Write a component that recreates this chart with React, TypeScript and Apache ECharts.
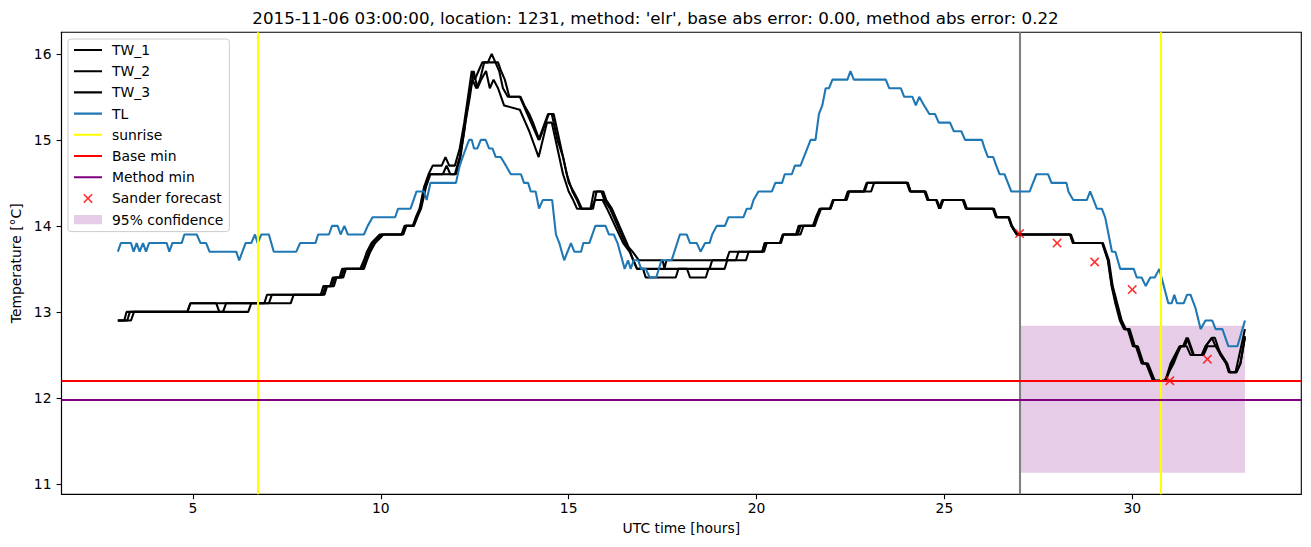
import React, { useEffect, useRef } from "react";
import * as echarts from "echarts";

const titleText =
  "2015-11-06 03:00:00, location: 1231, method: 'elr', base abs error: 0.00, method abs error: 0.22";

const xTicks = [5, 10, 15, 20, 25, 30];
const yTicks = [11, 12, 13, 14, 15, 16];

const tw1: number[][] = [
  [3.0,12.9],[3.17,12.9],[3.23,13.0],[4.85,13.0],[4.93,13.1],[6.9,13.1],[6.97,13.2],[8.4,13.2],[8.47,13.3],[8.65,13.3],[8.72,13.4],[8.9,13.4],[8.97,13.5],[9.45,13.5],[9.55,13.6],[9.63,13.7],[9.75,13.8],[9.97,13.9],[10.55,13.9],[10.63,14.0],[10.85,14.0],[10.93,14.1],[11.03,14.2],[11.15,14.45],[11.27,14.6],[11.38,14.7],[11.62,14.7],[11.72,14.8],[11.82,14.7],[11.97,14.7],[12.1,14.9],[12.22,15.2],[12.32,15.5],[12.42,15.8],[12.5,15.7],[12.6,15.8],[12.7,15.9],[12.85,15.9],[12.95,16.0],[13.05,15.9],[13.12,15.9],[13.2,15.8],[13.3,15.7],[13.42,15.5],[13.7,15.5],[13.8,15.4],[13.9,15.3],[14.0,15.2],[14.2,15.0],[14.45,15.3],[14.55,15.3],[14.7,15.0],[14.85,14.8],[14.95,14.6],[15.1,14.4],[15.22,14.3],[15.32,14.2],[15.58,14.2],[15.67,14.4],[15.87,14.4],[15.95,14.3],[16.1,14.2],[16.5,13.8],[16.7,13.7],[16.87,13.6],[17.5,13.6],[17.55,13.5],[17.6,13.6],[19.2,13.6],[19.28,13.7],[20.15,13.7],[20.22,13.8],[20.62,13.8],[20.7,13.9],[21.05,13.9],[21.12,14.0],[21.5,14.0],[21.58,14.1],[21.68,14.2],[21.95,14.2],[22.03,14.3],[22.35,14.3],[22.43,14.4],[22.85,14.4],[22.93,14.5],[24.0,14.5],[24.08,14.4],[24.47,14.4],[24.55,14.3],[24.78,14.3],[24.86,14.2],[24.94,14.3],[25.49,14.3],[25.57,14.2],[26.29,14.2],[26.37,14.1],[26.7,14.1],[26.78,14.0],[26.92,13.9],[28.34,13.9],[28.42,13.8],[29.2,13.8],[29.35,13.6],[29.45,13.3],[29.55,13.1],[29.67,12.9],[29.78,12.8],[29.88,12.8],[30.02,12.6],[30.1,12.6],[30.25,12.4],[30.37,12.4],[30.55,12.2],[30.88,12.2],[31.02,12.4],[31.26,12.6],[31.35,12.6],[31.45,12.7],[31.62,12.5],[31.85,12.5],[31.95,12.6],[32.12,12.7],[32.22,12.6],[32.35,12.5],[32.5,12.4],[32.58,12.3],[32.75,12.3],[32.85,12.5],[33.0,12.8]
];

const tw2: number[][] = [
  [3.0,12.9],[3.25,12.9],[3.32,13.0],[4.85,13.0],[4.93,13.1],[5.62,13.1],[5.7,13.0],[6.47,13.0],[6.55,13.1],[7.02,13.1],[7.1,13.2],[8.45,13.2],[8.53,13.3],[8.7,13.3],[8.77,13.4],[8.95,13.4],[9.02,13.5],[9.5,13.5],[9.6,13.6],[9.68,13.7],[9.8,13.8],[10.02,13.9],[10.6,13.9],[10.68,14.0],[10.88,14.0],[10.97,14.1],[11.07,14.2],[11.2,14.45],[11.32,14.6],[11.97,14.6],[12.1,14.8],[12.22,15.1],[12.34,15.5],[12.44,15.7],[12.54,15.6],[12.64,15.7],[12.75,15.9],[13.05,15.9],[13.15,15.8],[13.25,15.6],[13.38,15.5],[13.72,15.5],[13.82,15.4],[13.95,15.3],[14.05,15.2],[14.22,15.0],[14.47,15.3],[14.6,15.3],[14.75,15.0],[14.9,14.7],[15.0,14.5],[15.13,14.4],[15.25,14.3],[15.35,14.2],[15.65,14.2],[15.74,14.4],[15.92,14.4],[16.0,14.3],[16.15,14.2],[16.55,13.8],[16.72,13.6],[16.82,13.5],[18.75,13.5],[18.82,13.6],[19.45,13.6],[19.52,13.7],[20.2,13.7],[20.27,13.8],[20.65,13.8],[20.72,13.9],[21.17,13.9],[21.25,14.0],[21.52,14.0],[21.6,14.1],[21.7,14.2],[21.97,14.2],[22.05,14.3],[22.38,14.3],[22.45,14.4],[23.05,14.4],[23.13,14.5],[24.03,14.5],[24.1,14.4],[24.5,14.4],[24.58,14.3],[24.8,14.3],[24.89,14.2],[24.97,14.3],[25.52,14.3],[25.6,14.2],[26.32,14.2],[26.4,14.1],[26.72,14.1],[26.8,14.0],[26.95,13.9],[28.37,13.9],[28.45,13.8],[29.22,13.8],[29.38,13.6],[29.48,13.3],[29.6,13.1],[29.72,12.9],[29.83,12.8],[29.93,12.8],[30.07,12.6],[30.15,12.6],[30.3,12.4],[30.42,12.4],[30.6,12.2],[30.9,12.2],[31.05,12.4],[31.3,12.6],[31.45,12.6],[31.55,12.5],[31.9,12.5],[32.0,12.6],[32.25,12.6],[32.38,12.5],[32.53,12.4],[32.6,12.3],[32.78,12.3],[32.88,12.4],[33.0,12.7]
];

const tw3: number[][] = [
  [3.0,12.9],[3.35,12.9],[3.43,13.0],[5.8,13.0],[5.88,13.1],[7.6,13.1],[7.68,13.2],[8.5,13.2],[8.57,13.3],[8.75,13.3],[8.82,13.4],[9.0,13.4],[9.07,13.5],[9.55,13.5],[9.63,13.6],[9.72,13.7],[9.85,13.8],[10.07,13.9],[10.57,13.9],[10.65,14.0],[10.87,14.0],[10.95,14.1],[11.05,14.2],[11.18,14.45],[11.3,14.6],[11.65,14.6],[11.75,14.7],[11.85,14.6],[12.0,14.6],[12.12,14.8],[12.25,15.2],[12.37,15.5],[12.47,15.8],[12.57,15.6],[12.67,15.7],[12.8,15.8],[12.9,15.6],[13.0,15.7],[13.12,15.6],[13.28,15.4],[13.7,15.35],[13.85,15.2],[13.95,15.1],[14.2,14.8],[14.42,15.2],[14.55,15.2],[14.7,14.9],[14.85,14.6],[15.0,14.4],[15.12,14.3],[15.22,14.2],[15.6,14.2],[15.7,14.3],[15.9,14.3],[16.02,14.2],[16.45,13.8],[16.62,13.7],[16.82,13.5],[16.98,13.5],[17.05,13.4],[17.85,13.4],[17.92,13.5],[18.15,13.5],[18.23,13.4],[18.65,13.4],[18.72,13.5],[19.15,13.5],[19.22,13.6],[19.72,13.6],[19.79,13.7],[20.15,13.7],[20.22,13.8],[20.63,13.8],[20.7,13.9],[21.1,13.9],[21.17,14.0],[21.55,14.0],[21.63,14.1],[21.72,14.2],[21.97,14.2],[22.05,14.3],[22.4,14.3],[22.47,14.4],[22.88,14.4],[22.95,14.5],[24.02,14.5],[24.1,14.4],[24.48,14.4],[24.56,14.3],[24.79,14.3],[24.88,14.2],[24.96,14.3],[25.5,14.3],[25.58,14.2],[26.3,14.2],[26.38,14.1],[26.71,14.1],[26.79,14.0],[26.93,13.9],[28.35,13.9],[28.43,13.8],[29.21,13.8],[29.36,13.6],[29.46,13.3],[29.57,13.1],[29.69,12.9],[29.8,12.8],[29.9,12.8],[30.04,12.6],[30.12,12.6],[30.27,12.4],[30.39,12.4],[30.57,12.2],[30.86,12.2],[30.98,12.3],[31.1,12.4],[31.28,12.6],[31.4,12.6],[31.48,12.7],[31.64,12.5],[31.86,12.5],[31.95,12.6],[32.13,12.7],[32.2,12.7],[32.35,12.5],[32.5,12.4],[32.57,12.3],[32.77,12.3],[32.88,12.4],[33.0,12.72]
];

const tl: number[][] = [
  [3.0,13.7],[3.08,13.8],[3.35,13.8],[3.42,13.7],[3.5,13.8],[3.58,13.7],[3.67,13.8],[3.75,13.7],[3.83,13.8],[4.3,13.8],[4.37,13.7],[4.45,13.8],[4.7,13.8],[4.77,13.9],[5.1,13.9],[5.2,13.8],[5.35,13.8],[5.44,13.7],[6.15,13.7],[6.23,13.6],[6.4,13.8],[6.55,13.8],[6.65,13.9],[6.72,13.8],[6.82,13.9],[7.02,13.9],[7.15,13.7],[7.75,13.7],[7.85,13.8],[8.26,13.8],[8.33,13.9],[8.62,13.9],[8.7,14.0],[8.85,14.0],[8.93,13.9],[9.03,14.0],[9.12,13.9],[9.55,13.9],[9.65,14.0],[9.78,14.1],[10.38,14.1],[10.46,14.2],[10.79,14.2],[10.87,14.3],[10.95,14.4],[11.15,14.4],[11.22,14.3],[11.32,14.5],[12.0,14.5],[12.1,14.7],[12.22,14.85],[12.35,15.0],[12.42,15.0],[12.48,14.9],[12.57,14.9],[12.66,15.0],[12.79,15.0],[12.88,14.9],[12.97,14.9],[13.06,14.8],[13.19,14.8],[13.33,14.7],[13.46,14.6],[13.73,14.6],[13.81,14.5],[13.92,14.5],[13.99,14.4],[14.12,14.4],[14.21,14.2],[14.31,14.3],[14.56,14.3],[14.66,13.9],[14.75,13.8],[14.88,13.6],[15.06,13.8],[15.15,13.7],[15.33,13.7],[15.39,13.8],[15.55,13.8],[15.71,14.0],[15.98,14.0],[16.07,13.9],[16.2,13.9],[16.3,13.8],[16.49,13.5],[16.58,13.6],[16.65,13.5],[16.73,13.6],[16.85,13.6],[16.93,13.5],[17.05,13.5],[17.16,13.4],[17.33,13.4],[17.47,13.6],[17.74,13.6],[17.96,13.9],[18.14,13.9],[18.23,13.8],[18.41,13.8],[18.51,13.7],[18.63,13.8],[18.75,13.8],[18.82,13.9],[18.94,14.0],[19.16,14.0],[19.25,14.1],[19.65,14.1],[19.74,14.2],[19.85,14.2],[19.92,14.3],[20.05,14.4],[20.41,14.4],[20.5,14.5],[20.68,14.5],[20.75,14.6],[20.94,14.6],[21.02,14.7],[21.17,14.7],[21.44,15.0],[21.57,15.0],[21.66,15.3],[21.75,15.4],[21.84,15.6],[21.93,15.6],[22.02,15.7],[22.42,15.7],[22.5,15.8],[22.59,15.7],[23.44,15.7],[23.53,15.6],[23.84,15.6],[23.93,15.5],[24.15,15.5],[24.24,15.4],[24.33,15.5],[24.46,15.4],[24.6,15.3],[24.75,15.3],[24.85,15.2],[25.15,15.2],[25.25,15.1],[25.45,15.1],[25.55,15.0],[26.0,15.0],[26.07,14.9],[26.16,14.8],[26.3,14.8],[26.38,14.7],[26.47,14.6],[26.6,14.6],[26.78,14.4],[27.27,14.4],[27.45,14.6],[27.76,14.6],[27.85,14.5],[28.25,14.5],[28.3,14.4],[28.43,14.3],[28.79,14.3],[28.88,14.4],[29.06,14.2],[29.19,14.2],[29.28,14.1],[29.46,13.7],[29.55,13.7],[29.68,13.5],[30.04,13.5],[30.12,13.4],[30.25,13.4],[30.36,13.3],[30.48,13.4],[30.6,13.4],[30.72,13.5],[30.84,13.3],[30.96,13.1],[31.05,13.1],[31.12,13.2],[31.19,13.1],[31.37,13.1],[31.46,13.2],[31.55,13.2],[31.68,13.05],[31.82,12.8],[31.95,12.9],[32.13,12.9],[32.22,12.8],[32.4,12.8],[32.56,12.6],[32.8,12.6],[33.0,12.9]
];

const sunriseHours = [6.73, 30.75];
const forecastStartHour = [27];
const baseMin = [12.2];
const methodMin = [11.98];
const forecastHours = [27, 28, 29, 30, 31, 32];
const forecastValues = [13.91, 13.8, 13.58, 13.26, 12.2, 12.45];
const confidenceBand = [[27, 33, 11.13, 12.84]];

const X_PATH =
  "M0,1.2L1.2,0L5,3.8L8.8,0L10,1.2L6.2,5L10,8.8L8.8,10L5,6.2L1.2,10L0,8.8L3.8,5Z";
const LINE_ICON = "path://M0,0L0,0M0,5.96L28,5.96L28,8.04L0,8.04ZM33,14L33,14";
const PATCH_ICON = "path://M0,0L0,0M0,2.3L28,2.3L28,11.7L0,11.7ZM33,14L33,14";
const X_ICON =
  "path://M0,0L0,0M33,14L33,14M9.25,3.4L10.4,2.25L14,5.85L17.6,2.25L18.75,3.4L15.15,7L18.75,10.6L17.6,11.75L14,8.15L10.4,11.75L9.25,10.6L12.85,7Z";

const LW = 2.08;

export default function App() {
  const ref = useRef<HTMLDivElement>(null);
  useEffect(() => {
    if (!ref.current) return;
    const chart = echarts.init(ref.current, null, { renderer: "svg" });
    const font = "DejaVu Sans";
    const lineSeries = (name: string, data: number[][], color: string) => ({
      name,
      type: "line",
      data,
      symbol: "none",
      color,
      lineStyle: { color, width: LW },
      z: 3,
      silent: true,
    });
    const markSeries = (name: string, color: string, items: any[], z: number) => ({
      name,
      type: "line",
      data: [],
      symbol: "none",
      color,
      z,
      silent: true,
      markLine: {
        silent: true,
        symbol: "none",
        label: { show: false },
        lineStyle: { color, width: LW, type: "solid" },
        emphasis: { disabled: true },
        data: items,
        z,
      },
    });
    chart.setOption({
      animation: false,
      textStyle: { fontFamily: font },
      title: {
        text: titleText,
        left: "center",
        top: 0,
        padding: [9, 0, 0, 52],
        textStyle: { fontFamily: font, fontSize: 16.7, fontWeight: "normal", color: "#000" },
      },
      grid: {
        left: 61.5,
        right: 9.7,
        top: 32.3,
        bottom: 52.7,
        show: true,
        borderColor: "#000",
        borderWidth: 1.1,
        backgroundColor: "transparent",
      },
      legend: {
        orient: "vertical",
        left: 68,
        top: 39,
        padding: [4, 6, 5, 6],
        itemWidth: 33,
        itemHeight: 14,
        itemGap: 7.2,
        selectedMode: false,
        backgroundColor: "rgba(255,255,255,0.8)",
        borderColor: "#cccccc",
        borderWidth: 1,
        borderRadius: 3,
        textStyle: { fontFamily: font, fontSize: 13.9, color: "#000" },
        data: [
          { name: "TW_1", icon: LINE_ICON },
          { name: "TW_2", icon: LINE_ICON },
          { name: "TW_3", icon: LINE_ICON },
          { name: "TL", icon: LINE_ICON },
          { name: "sunrise", icon: LINE_ICON },
          { name: "Base min", icon: LINE_ICON },
          { name: "Method min", icon: LINE_ICON },
          { name: "Sander forecast", icon: X_ICON },
          { name: "95% confidence", icon: PATCH_ICON },
        ],
      },
      xAxis: {
        type: "value",
        min: 1.5,
        max: 34.5,
        name: "UTC time [hours]",
        nameLocation: "middle",
        nameGap: 27,
        nameTextStyle: { fontFamily: font, fontSize: 13.9, color: "#000" },
        axisLine: { show: true, onZero: false, lineStyle: { color: "#000", width: 1.1 } },
        axisTick: { show: true, length: 4.9, lineStyle: { color: "#000", width: 1.1 }, customValues: xTicks },
        axisLabel: { color: "#000", fontSize: 13.9, fontFamily: font, margin: 7, customValues: xTicks },
        splitLine: { show: false },
      },
      yAxis: {
        type: "value",
        min: 10.88,
        max: 16.25,
        name: "Temperature [°C]",
        nameLocation: "middle",
        nameGap: 34,
        nameTextStyle: { fontFamily: font, fontSize: 13.9, color: "#000" },
        axisLine: { show: true, onZero: false, lineStyle: { color: "#000", width: 1.1 } },
        axisTick: { show: true, length: 4.9, lineStyle: { color: "#000", width: 1.1 }, customValues: yTicks },
        axisLabel: { color: "#000", fontSize: 13.9, fontFamily: font, margin: 10, customValues: yTicks },
        splitLine: { show: false },
      },
      series: [
        {
          name: "95% confidence",
          type: "custom",
          color: "rgba(128,0,128,0.2)",
          itemStyle: { color: "rgba(128,0,128,0.2)" },
          z: 1,
          silent: true,
          encode: { x: [0, 1], y: [2, 3] },
          data: confidenceBand,
          renderItem: (params: any, api: any) => {
            const p1 = api.coord([api.value(0), api.value(3)]);
            const p2 = api.coord([api.value(1), api.value(2)]);
            return {
              type: "rect",
              shape: { x: p1[0], y: p1[1], width: p2[0] - p1[0], height: p2[1] - p1[1] },
              style: { fill: "rgba(128,0,128,0.2)" },
            };
          },
        },
        markSeries("forecast start", "#808080", forecastStartHour.map((h) => ({ xAxis: h })), 2),
        lineSeries("TW_1", tw1, "#000000"),
        lineSeries("TW_2", tw2, "#000000"),
        lineSeries("TW_3", tw3, "#000000"),
        { ...lineSeries("TL", tl, "#1f77b4"), z: 4 },
        markSeries("sunrise", "#ffff00", sunriseHours.map((h) => ({ xAxis: h })), 5),
        markSeries("Base min", "#ff0000", baseMin.map((v) => ({ yAxis: v })), 5),
        markSeries("Method min", "#800080", methodMin.map((v) => ({ yAxis: v })), 5),
        {
          name: "Sander forecast",
          type: "scatter",
          data: forecastHours.map((h, i) => [h, forecastValues[i]]),
          symbol: "path://" + X_PATH,
          symbolSize: 9.5,
          color: "#ff0000",
          itemStyle: { color: "#ff0000" },
          z: 6,
          silent: true,
        },
      ],
    });
    return () => chart.dispose();
  }, []);
  return (
    <div
      ref={ref}
      style={{ position: "absolute", left: 0, top: 0, width: 1311, height: 547, background: "#fff" }}
    />
  );
}
